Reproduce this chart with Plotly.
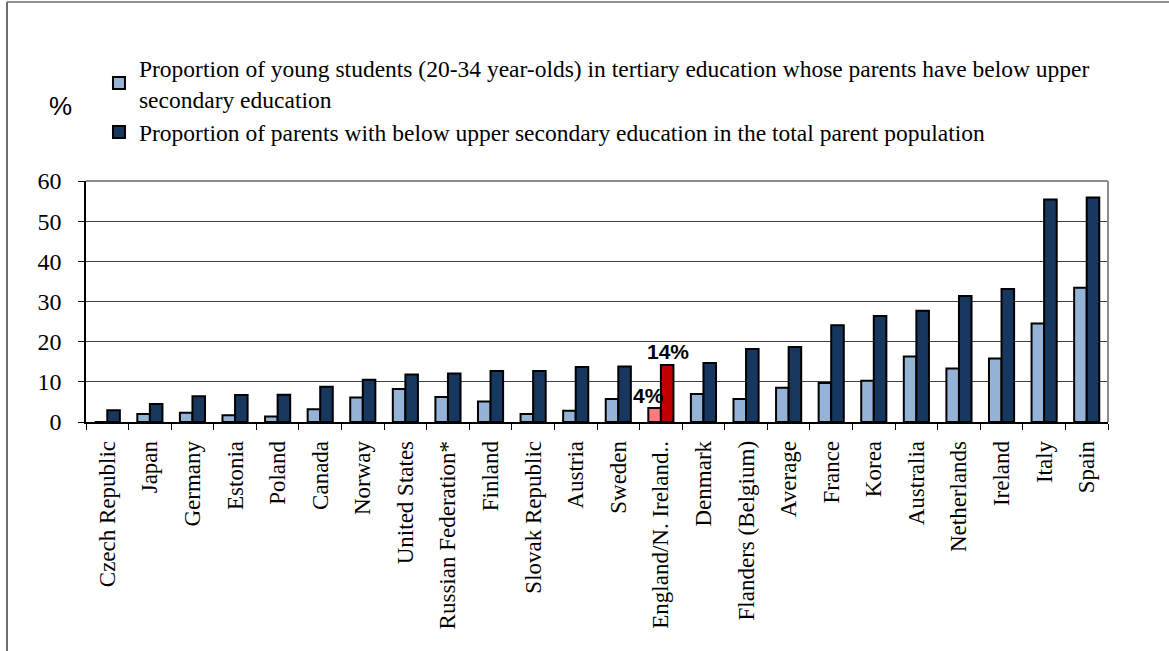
import plotly.graph_objects as go

countries = ["Czech Republic", "Japan", "Germany", "Estonia", "Poland", "Canada", "Norway",
             "United States", "Russian Federation*", "Finland", "Slovak Republic", "Austria",
             "Sweden", "England/N. Ireland..", "Denmark", "Flanders (Belgium)", "Average",
             "France", "Korea", "Australia", "Netherlands", "Ireland", "Italy", "Spain"]
young_students = [0.0, 2.0, 2.3, 1.7, 1.4, 3.2, 6.1, 8.2, 6.2, 5.1, 2.0, 2.8,
                  5.7, 3.5, 7.0, 5.7, 8.5, 9.7, 10.3, 16.3, 13.3, 15.8, 24.5, 33.4]
parents = [2.9, 4.5, 6.4, 6.7, 6.8, 8.8, 10.5, 11.8, 12.1, 12.7, 12.7, 13.7,
           13.8, 14.2, 14.7, 18.2, 18.7, 24.1, 26.4, 27.7, 31.4, 33.1, 55.4, 55.9]
highlight = "England/N. Ireland.."
label_young_hl = "4%"
label_parents_hl = "14%"
name_young = "Proportion of young students (20-34 year-olds) in tertiary education whose parents have below upper<br>secondary education"
name_parents = "Proportion of parents with below upper secondary education in the total parent population"

LIGHT, DARK = "#95B3D7", "#17375E"
HL_LIGHT, HL_DARK = "#FF7C80", "#C00000"

c_young = [HL_LIGHT if c == highlight else LIGHT for c in countries]
c_par = [HL_DARK if c == highlight else DARK for c in countries]

fig = go.Figure()
fig.add_trace(go.Bar(x=countries, y=young_students, name=name_young,
                     marker=dict(color=c_young, line=dict(color="black", width=2))))
fig.add_trace(go.Bar(x=countries, y=parents, name=name_parents,
                     marker=dict(color=c_par, line=dict(color="black", width=2))))

hi = countries.index(highlight)
fig.add_annotation(x=highlight, y=parents[hi], text="<b>" + label_parents_hl + "</b>",
                   showarrow=False, yanchor="bottom", xshift=7, yshift=0,
                   font=dict(family="Liberation Sans, Arial", size=21, color="black"))
fig.add_annotation(x=highlight, y=young_students[hi], text="<b>" + label_young_hl + "</b>",
                   showarrow=False, yanchor="middle", xshift=-12, yshift=12,
                   font=dict(family="Liberation Sans, Arial", size=21, color="black"))

fig.add_annotation(xref="paper", yref="paper", x=-0.025, y=(422 - 106) / 241, text="%",
                   showarrow=False, xanchor="center", yanchor="middle",
                   font=dict(family="Liberation Sans, Arial", size=26, color="black"))

# plot area border (top & right) and outer frame
fig.add_shape(type="line", xref="paper", yref="paper", x0=0, x1=1, y0=1, y1=1,
              line=dict(color="#8C8C8C", width=2))
fig.add_shape(type="line", xref="paper", yref="paper", x0=1, x1=1, y0=0, y1=1,
              line=dict(color="#8C8C8C", width=2))
fig.add_shape(type="line", xref="paper", yref="paper", x0=-0.0773, x1=1.1, y0=1.7427, y1=1.7427,
              line=dict(color="#6E6E6E", width=1.5))
fig.add_shape(type="line", xref="paper", yref="paper", x0=-0.0773, x1=-0.0773, y0=-0.96, y1=1.7427,
              line=dict(color="#6E6E6E", width=2))

fig.update_layout(
    width=1169, height=651,
    margin=dict(l=86, r=61, t=181, b=229),
    paper_bgcolor="white", plot_bgcolor="white",
    barmode="group", bargap=0.41, bargroupgap=0,
    font=dict(family="Liberation Serif, Times New Roman", size=24, color="black"),
    showlegend=True,
    legend=dict(x=0.0127, y=1.56, xanchor="left", yanchor="top", xref="paper",
                font=dict(family="Liberation Serif", size=23.5, color="black"),
                tracegroupgap=0, itemwidth=30, bgcolor="rgba(0,0,0,0)"),
)
fig.update_xaxes(tickangle=-90, showline=True, linecolor="black", linewidth=1.5,
                 ticks="outside", tickson="boundaries", ticklen=6, tickcolor="black",
                 ticklabelstandoff=8,
                 tickfont=dict(family="Liberation Serif", size=23), showgrid=False)
fig.update_yaxes(range=[0, 60], dtick=10, showline=True, linecolor="black", linewidth=1.5,
                 ticks="outside", ticklen=6, tickcolor="black", ticklabelstandoff=12,
                 showgrid=True, gridcolor="#404040", gridwidth=1,
                 tickfont=dict(family="Liberation Serif", size=24), zeroline=False)

fig.write_html("out.html", config={"displayModeBar": False},
               post_script="document.body.style.margin='0px';")
